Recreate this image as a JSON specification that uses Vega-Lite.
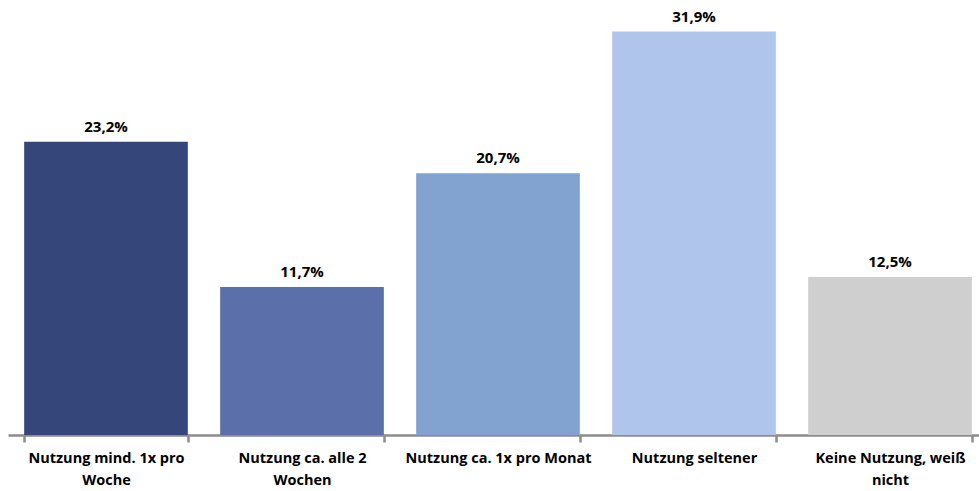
{
  "$schema": "https://vega.github.io/schema/vega-lite/v6.json",
  "width": 971,
  "height": 435,
  "padding": {"left": 8, "top": 0, "right": 0, "bottom": 56},
  "autosize": {"type": "none"},
  "background": "white",
  "config": {"view": {"stroke": null}, "font": "Open Sans"},
  "data": {
    "values": [
      {"kategorie": "Nutzung mind. 1x pro Woche", "anteil": 23.2, "label": "23,2%"},
      {"kategorie": "Nutzung ca. alle 2 Wochen", "anteil": 11.7, "label": "11,7%"},
      {"kategorie": "Nutzung ca. 1x pro Monat", "anteil": 20.7, "label": "20,7%"},
      {"kategorie": "Nutzung seltener", "anteil": 31.9, "label": "31,9%"},
      {"kategorie": "Keine Nutzung, weiß nicht", "anteil": 12.5, "label": "12,5%"}
    ]
  },
  "encoding": {
    "x": {
      "field": "kategorie",
      "type": "nominal",
      "sort": null,
      "scale": {"range": [0, 980], "paddingInner": 0.165, "paddingOuter": 0.0825},
      "axis": {
        "title": null,
        "labelAngle": 0,
        "tickBand": "extent",
        "domainColor": "#8c8c8c",
        "domainWidth": 2.5,
        "tickColor": "#8c8c8c",
        "tickWidth": 2.5,
        "tickSize": 7,
        "labelPadding": 9,
        "labelFontSize": 14.5,
        "labelFontWeight": "bold",
        "labelColor": "#000000",
        "labelLineHeight": 22,
        "labelBaseline": "top",
        "labelLimit": 250,
        "labelExpr": "datum.value == 'Nutzung mind. 1x pro Woche' ? ['Nutzung mind. 1x pro', 'Woche'] : datum.value == 'Nutzung ca. alle 2 Wochen' ? ['Nutzung ca. alle 2', 'Wochen'] : datum.value == 'Keine Nutzung, weiß nicht' ? ['Keine Nutzung, weiß', 'nicht'] : datum.value"
      }
    },
    "y": {
      "field": "anteil",
      "type": "quantitative",
      "scale": {"domain": [0, 34.4], "nice": false},
      "axis": null
    }
  },
  "layer": [
    {
      "mark": {"type": "bar"},
      "encoding": {
        "color": {
          "field": "kategorie",
          "type": "nominal",
          "sort": null,
          "scale": {"range": ["#34467a", "#5b70aa", "#82a2d0", "#b0c5ec", "#cfcfcf"]},
          "legend": null
        }
      }
    },
    {
      "mark": {"type": "text", "baseline": "bottom", "dy": -7, "fontSize": 15, "fontWeight": "bold", "color": "#000000"},
      "encoding": {"text": {"field": "label"}}
    }
  ]
}
